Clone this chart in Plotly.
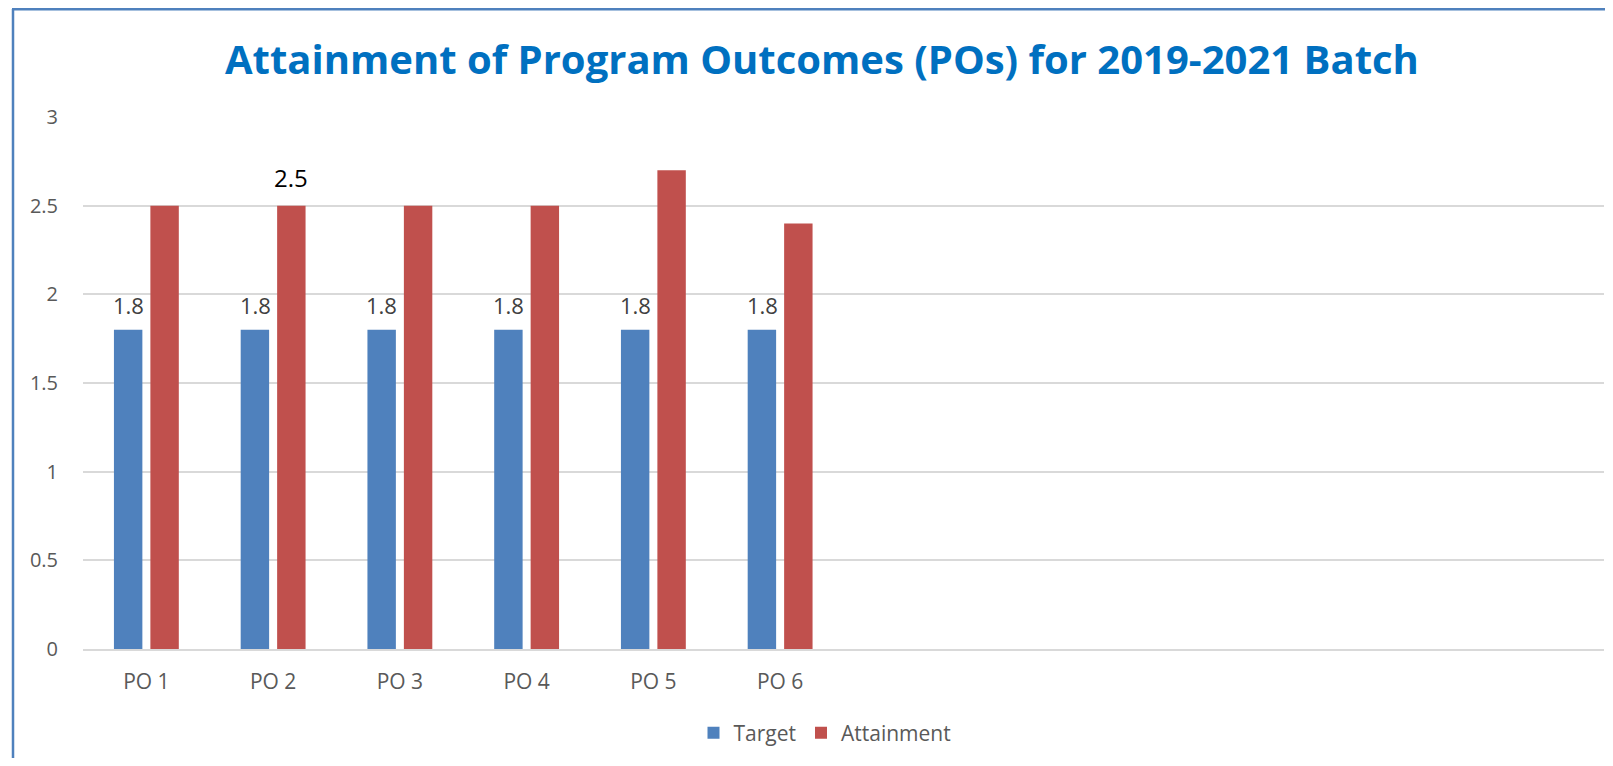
import plotly.graph_objects as go

categories = ["PO 1", "PO 2", "PO 3", "PO 4", "PO 5", "PO 6", " ", "  ", "   ", "    ", "     ", "      "]
target = [1.8, 1.8, 1.8, 1.8, 1.8, 1.8]
attainment = [2.5, 2.5, 2.5, 2.5, 2.7, 2.4]
y_ticks = [0, 0.5, 1, 1.5, 2, 2.5, 3]
y_tick_labels = ["0", "0.5", "1", "1.5", "2", "2.5", "3"]
labelled_attainment = ["PO 2"]

OFF = 8  # default page body margin
W, H = 1613 - 2 * OFF, 766 - 2 * OFF
L = 83 - OFF
T = 117 - OFF
R = W - (1604 - OFF)
B = H - (649 - OFF)
pw = W - L - R
ph = H - T - B

def px_x(p):
    return (p - OFF - L) / pw

def px_y(p):
    return (H - B - (p - OFF)) / ph

BLUE = "#4F81BD"
RED = "#C0504D"
FONT = "Open Sans"

fig = go.Figure()
fig.add_trace(go.Bar(name="Target", x=categories[:len(target)], y=target,
                     marker=dict(color=BLUE, line=dict(width=0))))
fig.add_trace(go.Bar(name="Attainment", x=categories[:len(attainment)], y=attainment,
                     marker=dict(color=RED, line=dict(width=0))))

annotations = []
for c, v in zip(categories, target):
    annotations.append(dict(x=c, y=v, xref="x", yref="y", text=f"{v:g}", showarrow=False,
                            xshift=-18, yshift=25, font=dict(family=FONT, size=22, color="#404040")))
for c, v in zip(categories, attainment):
    if c in labelled_attainment:
        annotations.append(dict(x=c, y=v, xref="x", yref="y", text=f"{v:g}", showarrow=False,
                                xshift=18, yshift=28, font=dict(family=FONT, size=24, color="#000000")))

annotations.append(dict(x=px_x(822), y=px_y(58), xref="paper", yref="paper",
                        text="<b>Attainment of Program Outcomes (POs) for 2019-2021 Batch</b>",
                        showarrow=False, xanchor="center", yanchor="middle",
                        font=dict(family=FONT, size=40, color="#0070C0")))

fig.update_layout(
    width=W, height=H,
    margin=dict(l=L, r=R, t=T, b=B, pad=0, autoexpand=False),
    paper_bgcolor="white", plot_bgcolor="white",
    barmode="group", bargap=0.425, bargroupgap=0.22,
    annotations=annotations,
    showlegend=True,
    legend=dict(orientation="h", x=px_x(825), y=px_y(733), xanchor="center", yanchor="middle",
                font=dict(family=FONT, size=21, color="#595959"), itemwidth=30,
                traceorder="normal"),
    font=dict(family=FONT, color="#595959"),
    shapes=[
        dict(type="line", xref="paper", yref="paper", x0=px_x(13), x1=px_x(13),
             y0=px_y(9), y1=px_y(766), line=dict(color=BLUE, width=2.5)),
        dict(type="line", xref="paper", yref="paper", x0=px_x(12), x1=px_x(1613),
             y0=px_y(9.2), y1=px_y(9.2), line=dict(color=BLUE, width=2.5)),
    ],
)
fig.update_xaxes(type="category", categoryorder="array", categoryarray=categories,
                 range=[-0.5, len(categories) - 0.5],
                 showgrid=False, showline=True, linecolor="#D9D9D9", linewidth=2,
                 ticks="", tickfont=dict(family=FONT, size=21, color="#595959"), ticklabelstandoff=13)
fig.update_yaxes(range=[0, 3], tickvals=y_ticks, ticktext=y_tick_labels,
                 showgrid=True, gridcolor="#D9D9D9", gridwidth=2, zeroline=False,
                 showline=False, ticks="", ticklabelstandoff=24,
                 tickfont=dict(family=FONT, size=20, color="#595959"))

fig.write_html("out.html")
